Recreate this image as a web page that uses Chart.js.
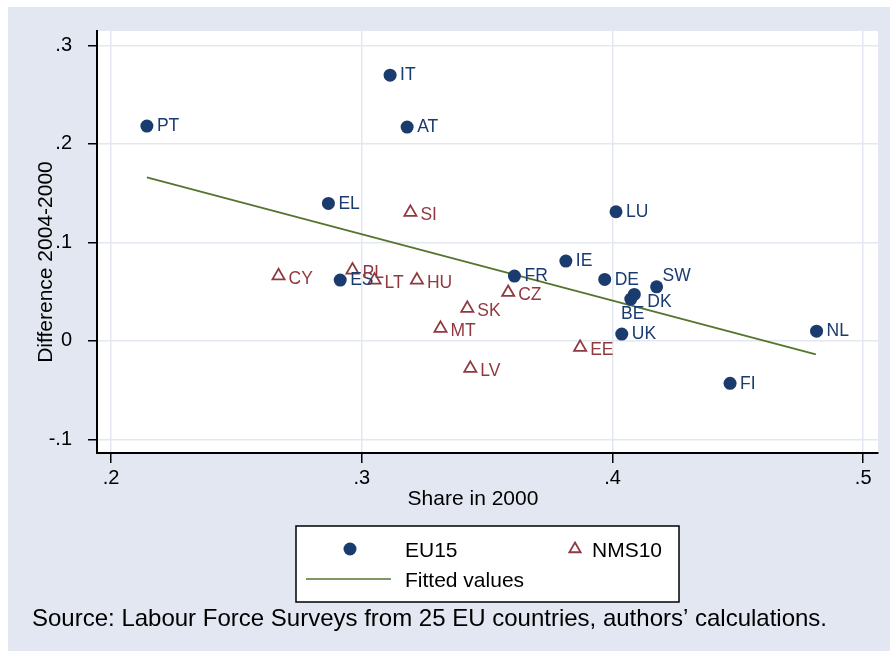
<!DOCTYPE html>
<html>
<head>
<meta charset="utf-8">
<script src="https://cdn.jsdelivr.net/npm/chart.js@4.4.1/dist/chart.umd.min.js"></script>
<style>
  html, body { margin: 0; padding: 0; background: #fff; }
  #wrap { width: 890px; height: 651px; }
</style>
</head>
<body>
<div id="wrap"><canvas id="chart" width="890" height="651"></canvas></div>
<script>
// EU15 countries
const euNames = ['PT', 'IT', 'AT', 'EL', 'ES', 'FR', 'IE', 'LU', 'DE', 'SW', 'DK', 'BE', 'UK', 'NL', 'FI'];
const euShare = [0.2143, 0.3113, 0.3181, 0.2867, 0.2914, 0.3609, 0.3814, 0.4014, 0.3969, 0.4176, 0.4087, 0.4073, 0.4037, 0.4814, 0.4469];
const euDiff  = [0.218, 0.2697, 0.217, 0.1395, 0.0616, 0.0657, 0.0809, 0.131, 0.0623, 0.0548, 0.0471, 0.0424, 0.0068, 0.0098, -0.0432];

// NMS10 countries
const nmsNames = ['CY', 'PL', 'LT', 'HU', 'SI', 'CZ', 'SK', 'MT', 'LV', 'EE'];
const nmsShare = [0.2668, 0.2963, 0.3051, 0.322, 0.3194, 0.3584, 0.3421, 0.3314, 0.3433, 0.3871];
const nmsDiff  = [0.066, 0.0718, 0.0616, 0.0616, 0.1304, 0.0491, 0.0329, 0.0126, -0.028, -0.0067];

// fitted regression line (end points)
const fitShare = [0.2143, 0.4811];
const fitDiff  = [0.1659, -0.0138];

const xTicks = [0.2, 0.3, 0.4, 0.5];
const yTicks = [-0.1, 0, 0.1, 0.2, 0.3];

const xTitle = 'Share in 2000';
const yTitle = 'Difference 2004-2000';
const sourceNote = 'Source: Labour Force Surveys from 25 EU countries, authors\u2019 calculations.';

const NAVY = '#1a3b6e';
const MAROON = '#903a40';
const GREEN = '#55752f';
const REGION = '#e2e7f1';
const FONT = '"Liberation Sans", Arial, sans-serif';

// label placement exceptions (clock position)
const labelPos = { SW: 'ne', DK: 'se', BE: 's' };

const toPoints = (xs, ys) => xs.map((x, i) => ({ x: x, y: ys[i] }));
const fmt = v => {
  if (Math.abs(v) < 1e-9) return '0';
  return v.toFixed(1).replace('0.', '.');
};

const background = {
  id: 'background',
  beforeDraw(chart) {
    const ctx = chart.ctx;
    const a = chart.chartArea;
    ctx.save();
    ctx.fillStyle = '#fff';
    ctx.fillRect(0, 0, chart.width, chart.height);
    ctx.fillStyle = REGION;
    ctx.fillRect(8, 7, chart.width - 8, chart.height - 7);
    ctx.fillStyle = '#fff';
    ctx.fillRect(a.left, a.top, a.right - a.left, a.bottom - a.top);
    ctx.restore();
  }
};

const pointLabels = {
  id: 'pointLabels',
  afterDatasetsDraw(chart) {
    const ctx = chart.ctx;
    ctx.save();
    ctx.font = '17.5px ' + FONT;
    ctx.textBaseline = 'middle';
    chart.data.datasets.forEach((ds, i) => {
      if (!ds.names) return;
      ctx.fillStyle = ds.labelColor;
      const dy0 = ds.pointStyle === 'triangle' ? 3 : 0.5;
      chart.getDatasetMeta(i).data.forEach((pt, j) => {
        const name = ds.names[j];
        const pos = labelPos[name] || 'e';
        let x = pt.x, y = pt.y;
        if (pos === 'ne') { ctx.textAlign = 'left'; x += 6; y -= 11; }
        else if (pos === 'se') { ctx.textAlign = 'left'; x += 13; y += 8; }
        else if (pos === 's') { ctx.textAlign = 'center'; x += 2; y += 15; }
        else { ctx.textAlign = 'left'; x += 10; y += dy0; }
        ctx.fillText(name, x, y);
      });
    });
    ctx.restore();
  }
};

const extras = {
  id: 'extras',
  afterDraw(chart) {
    const ctx = chart.ctx;
    const ds = chart.data.datasets;
    ctx.save();
    ctx.fillStyle = '#000';
    ctx.textBaseline = 'alphabetic';

    // axis titles
    ctx.font = '21px ' + FONT;
    ctx.textAlign = 'center';
    ctx.fillText(xTitle, 473, 505);
    ctx.save();
    ctx.translate(52, 262);
    ctx.rotate(-Math.PI / 2);
    ctx.fillText(yTitle, 0, 0);
    ctx.restore();

    // legend box
    ctx.fillStyle = '#fff';
    ctx.fillRect(296, 526, 383, 76);
    ctx.strokeStyle = '#000';
    ctx.lineWidth = 1.5;
    ctx.strokeRect(296, 526, 383, 76);

    ctx.fillStyle = NAVY;
    ctx.beginPath();
    ctx.arc(350, 549, 6.5, 0, Math.PI * 2);
    ctx.fill();

    ctx.strokeStyle = MAROON;
    ctx.lineWidth = 1.8;
    const r = 6.5, tx = 575, ty = 549;
    ctx.beginPath();
    ctx.moveTo(tx, ty - r);
    ctx.lineTo(tx + r * 0.866, ty + r * 0.5);
    ctx.lineTo(tx - r * 0.866, ty + r * 0.5);
    ctx.closePath();
    ctx.stroke();

    ctx.strokeStyle = GREEN;
    ctx.lineWidth = 1.5;
    ctx.beginPath();
    ctx.moveTo(306, 579);
    ctx.lineTo(391, 579);
    ctx.stroke();

    ctx.fillStyle = '#000';
    ctx.textAlign = 'left';
    ctx.fillText(ds[0].label, 405, 556.5);
    ctx.fillText(ds[1].label, 592, 556.5);
    ctx.fillText(ds[2].label, 405, 587);

    // source note
    ctx.font = '24px ' + FONT;
    ctx.fillText(sourceNote, 32, 626);
    ctx.restore();
  }
};

const ctx = document.getElementById('chart').getContext('2d');

const chart = new Chart(ctx, {
  type: 'scatter',
  data: {
    datasets: [
      {
        label: 'EU15',
        names: euNames,
        labelColor: NAVY,
        data: toPoints(euShare, euDiff),
        pointStyle: 'circle',
        pointRadius: 6.5,
        pointBorderWidth: 0,
        backgroundColor: NAVY,
        borderColor: NAVY
      },
      {
        label: 'NMS10',
        names: nmsNames,
        labelColor: MAROON,
        data: toPoints(nmsShare, nmsDiff),
        pointStyle: 'triangle',
        pointRadius: 7,
        pointBorderWidth: 1.8,
        backgroundColor: 'rgba(0,0,0,0)',
        borderColor: MAROON
      },
      {
        label: 'Fitted values',
        type: 'line',
        data: toPoints(fitShare, fitDiff),
        borderColor: GREEN,
        borderWidth: 1.8,
        pointRadius: 0,
        fill: false,
        order: 3
      }
    ]
  },
  options: {
    responsive: false,
    animation: false,
    devicePixelRatio: 1,
    layout: { padding: { left: 0, top: 31, right: 12, bottom: 138 } },
    plugins: {
      legend: { display: false },
      tooltip: { enabled: false }
    },
    scales: {
      x: {
        type: 'linear',
        min: 0.1944,
        max: 0.5059,
        afterBuildTicks: s => { s.ticks = xTicks.map(v => ({ value: v })); },
        afterFit: s => { s.height = 60; },
        ticks: {
          callback: v => fmt(v),
          color: '#000',
          font: { family: FONT, size: 20 },
          padding: 3,
          maxRotation: 0
        },
        grid: {
          color: REGION,
          lineWidth: 1.5,
          tickColor: '#000',
          tickLength: 10,
          tickWidth: 1.5
        },
        border: { display: true, color: '#000', width: 2 }
      },
      y: {
        type: 'linear',
        min: -0.1139,
        max: 0.3145,
        afterBuildTicks: s => { s.ticks = yTicks.map(v => ({ value: v })); },
        afterFit: s => { s.width = 97; },
        ticks: {
          callback: v => fmt(v),
          color: '#000',
          font: { family: FONT, size: 20 },
          padding: 16
        },
        grid: {
          color: REGION,
          lineWidth: 1.5,
          tickColor: '#000',
          tickLength: 9,
          tickWidth: 1.5
        },
        border: { display: true, color: '#000', width: 2 }
      }
    }
  },
  plugins: [background, pointLabels, extras]
});
</script>
</body>
</html>
